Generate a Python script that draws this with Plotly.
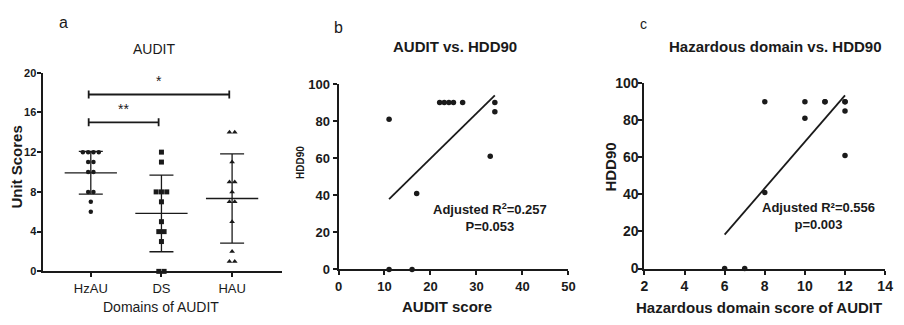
import numpy as np
import plotly.graph_objects as go

# ---- data -------------------------------------------------------------
domains = ["HzAU", "DS", "HAU"]
hzau_scores = [12, 12, 12, 12, 11, 11, 10, 10, 8, 8, 7, 6]
ds_scores = [12, 11, 8, 8, 8, 7, 5, 4, 4, 3, 0, 0]
hau_scores = [14, 14, 11, 9, 9, 8, 7, 7, 5, 2, 1, 1]
a_yticks = [0, 4, 8, 12, 16, 20]

# significance brackets: (from group, to group, height, label)
brackets = [(0, 1, 15.0, "**"), (0, 2, 17.8, "*")]

audit_score = [11, 11, 16, 17, 22, 23, 24, 25, 27, 33, 34, 34]
hdd90_b = [81, 0, 0, 41, 90, 90, 90, 90, 90, 61, 90, 85]
b_xticks = [0, 10, 20, 30, 40, 50]
b_stats = "Adjusted R<sup>2</sup>=0.257<br>P=0.053"

hazard_score = [6, 7, 8, 8, 10, 10, 11, 11, 12, 12, 12, 12]
hdd90_c = [0, 0, 41, 90, 81, 90, 90, 90, 90, 90, 85, 61]
c_xticks = [2, 4, 6, 8, 10, 12, 14]
c_stats = "Adjusted R²=0.556<br>p=0.003"

hdd_ticks = [0, 20, 40, 60, 80, 100]

# ---- styling ----------------------------------------------------------
ARIAL = "Liberation Sans, Arial, sans-serif"
INK = "#1a1a1a"
W, H = 904, 325

fig = go.Figure()


def jitter(values, center, step=0.075):
    """Spread tied values side by side around the group centre."""
    xs = []
    seen = {}
    counts = {v: values.count(v) for v in set(values)}
    for v in values:
        k = seen.get(v, 0)
        seen[v] = k + 1
        xs.append(center + (k - (counts[v] - 1) / 2) * step)
    return xs


def bold(vals):
    return [f"<b>{v}</b>" for v in vals]


# ---- panel a: dot plot with mean ± SD -----------------------------------
groups = [hzau_scores, ds_scores, hau_scores]
symbols = ["circle", "square", "triangle-up"]
sizes = [4.5, 5, 5]
for i, (vals, sym, sz) in enumerate(zip(groups, symbols, sizes)):
    fig.add_trace(go.Scatter(
        x=jitter(vals, i), y=vals, mode="markers",
        marker=dict(symbol=sym, size=sz, color=INK, line=dict(width=0)),
        xaxis="x", yaxis="y", cliponaxis=False, showlegend=False))
    m = float(np.mean(vals))
    sd = float(np.std(vals, ddof=1))
    fig.add_trace(go.Scatter(
        x=[i - 0.37, i + 0.37], y=[m, m], mode="lines",
        line=dict(color=INK, width=1.3),
        xaxis="x", yaxis="y", showlegend=False))
    fig.add_trace(go.Scatter(
        x=[i], y=[m], mode="markers", marker=dict(size=1, color="rgba(0,0,0,0)"),
        error_y=dict(type="data", array=[sd], visible=True, color=INK,
                     thickness=1.3, width=12),
        xaxis="x", yaxis="y", showlegend=False))

for g0, g1, h, lab in brackets:
    cap = 0.4
    x0, x1 = g0 - 0.03, g1 - 0.04
    fig.add_trace(go.Scatter(
        x=[x0, x0, None, x0, x1, None, x1, x1],
        y=[h - cap, h + cap, None, h, h, None, h - cap, h + cap],
        mode="lines", line=dict(color=INK, width=1.8),
        xaxis="x", yaxis="y", showlegend=False, cliponaxis=False))
    fig.add_annotation(x=(x0 + x1) / 2, y=h + 0.35, xref="x", yref="y",
                       text=lab, showarrow=False, yanchor="bottom",
                       font=dict(family=ARIAL, size=14, color=INK))

# ---- panel b: AUDIT total vs HDD90 --------------------------------------
fig.add_trace(go.Scatter(
    x=audit_score, y=hdd90_b, mode="markers",
    marker=dict(symbol="circle", size=5.5, color=INK),
    xaxis="x2", yaxis="y2", cliponaxis=False, showlegend=False))
kb, cb = np.polyfit(audit_score, hdd90_b, 1)
xb = np.array([min(audit_score), max(audit_score)])
fig.add_trace(go.Scatter(
    x=xb, y=kb * xb + cb, mode="lines", line=dict(color=INK, width=1.8),
    xaxis="x2", yaxis="y2", showlegend=False))
fig.add_annotation(x=33.05, y=28.0, xref="x2", yref="y2", text=b_stats,
                   showarrow=False, align="center",
                   font=dict(family=ARIAL, size=13, color=INK, weight="bold"))

# ---- panel c: hazardous domain vs HDD90 ---------------------------------
fig.add_trace(go.Scatter(
    x=hazard_score, y=hdd90_c, mode="markers",
    marker=dict(symbol="circle", size=5.5, color=INK),
    xaxis="x3", yaxis="y3", cliponaxis=False, showlegend=False))
kc, cc = np.polyfit(hazard_score, hdd90_c, 1)
xc = np.array([min(hazard_score), max(hazard_score)])
fig.add_trace(go.Scatter(
    x=xc, y=kc * xc + cc, mode="lines", line=dict(color=INK, width=1.8),
    xaxis="x3", yaxis="y3", showlegend=False))
fig.add_annotation(x=10.68, y=28.5, xref="x3", yref="y3", text=c_stats,
                   showarrow=False, align="center",
                   font=dict(family=ARIAL, size=13, color=INK, weight="bold"))

# ---- axes ---------------------------------------------------------------


def xdom(l, r):
    return [l / W, r / W]


def ydom(b, t):
    return [1 - b / H, 1 - t / H]


common = dict(showline=True, linecolor=INK, linewidth=2, ticks="outside",
              ticklen=4, tickwidth=1.5, tickcolor=INK, showgrid=False,
              zeroline=False, fixedrange=True)

fig.update_layout(
    width=W, height=H, margin=dict(l=0, r=0, t=0, b=0),
    plot_bgcolor="white", paper_bgcolor="white", showlegend=False,
    xaxis=dict(domain=xdom(40, 282), range=[-0.67, 2.71], anchor="y",
               tickvals=[0, 1, 2], ticktext=domains,
               tickfont=dict(family=ARIAL, size=13, color=INK), **common),
    yaxis=dict(domain=ydom(277, 68), range=[0, 20], anchor="x",
               tickvals=a_yticks, ticktext=bold(a_yticks), ticklabelstandoff=-1,
               tickfont=dict(family=ARIAL, size=11, color=INK), **common),
    xaxis2=dict(domain=xdom(339, 572), range=[0, 50], anchor="y2",
                tickvals=b_xticks, ticktext=bold(b_xticks),
                tickfont=dict(family=ARIAL, size=13, color=INK), **common),
    yaxis2=dict(domain=ydom(275, 80), range=[0, 100], anchor="x2",
                tickvals=hdd_ticks, ticktext=bold(hdd_ticks),
                tickfont=dict(family=ARIAL, size=13, color=INK), **common),
    xaxis3=dict(domain=xdom(649, 893), range=[2, 14], anchor="y3",
                tickvals=c_xticks, ticktext=bold(c_xticks),
                tickfont=dict(family=ARIAL, size=14, color=INK), **common),
    yaxis3=dict(domain=ydom(274, 79), range=[0, 100], anchor="x3",
                tickvals=hdd_ticks, ticktext=bold(hdd_ticks), ticklabelstandoff=-3,
                tickfont=dict(family=ARIAL, size=14, color=INK), **common),
)

# ---- panel letters, titles and axis titles --------------------------------
# (text, x px, y px, size, weight, angle)
labels = [
    ("a", 60, 15, 16, "normal", 0),
    ("b", 339, 20, 16, "normal", 0),
    ("c", 648, 17, 14, "normal", 0),
    ("AUDIT", 152, 43, 14, "normal", 0),
    ("AUDIT vs. HDD90", 457, 40.5, 15, "bold", 0),
    ("Hazardous domain vs. HDD90", 782, 40.5, 15, "bold", 0),
    ("Domains of AUDIT", 159, 315, 14, "normal", 0),
    ("AUDIT score", 449, 314, 15, "bold", 0),
    ("Hazardous domain score of AUDIT", 765, 315, 15, "bold", 0),
    ("Unit Scores", 13, 167, 15, "bold", -90),
    ("HDD90", 301, 163, 10, "bold", -90),
    ("HDD90", 615, 167, 15, "bold", -90),
]
for text, px, py, size, weight, ang in labels:
    fig.add_annotation(x=px / W, y=1 - py / H, xref="paper", yref="paper",
                       text=text, showarrow=False, xanchor="center", yanchor="middle",
                       textangle=ang,
                       font=dict(family=ARIAL, size=size, color=INK, weight=weight))

fig.write_html("out.html")
